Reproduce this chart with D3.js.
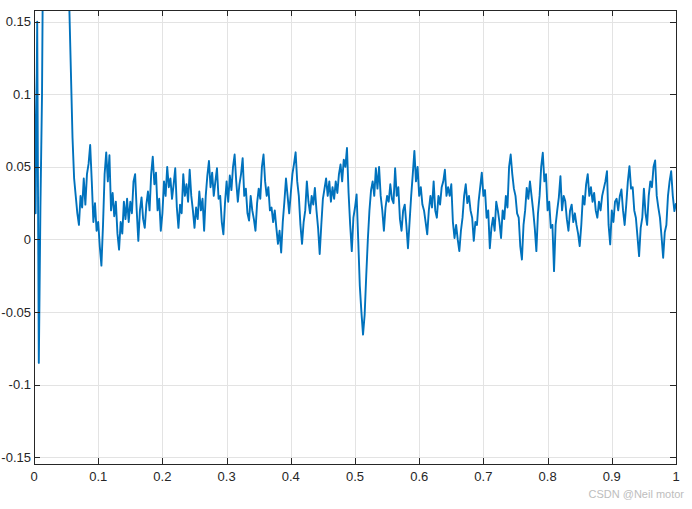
<html lang="en">
<head>
<meta charset="utf-8">
<style>
    body { margin: 0; background: #fff; }
    #chart svg { display: block; }
    .tick-label { font-family: Arial, "Liberation Sans", sans-serif; font-size: 13px; fill: #262626; }
</style>
</head>
<body>

<div id="chart"></div>

<script src="https://cdnjs.cloudflare.com/ajax/libs/d3/7.8.5/d3.min.js"></script>
<script>

// sample step of the signal (s)
var dt = 0.0025;

// signal values, one per sample
var signal = [
    0.118, 0.018, 0.15, -0.085, 0.022, 0.10, 0.26, 0.33, 0.41, 0.47,
    0.52, 0.55, 0.56, 0.55, 0.53, 0.50, 0.46, 0.42, 0.37, 0.32,
    0.27, 0.22, 0.16, 0.115, 0.07, 0.042, 0.03, 0.018, 0.01, 0.03,
    0.022, 0.042, 0.024, 0.045, 0.052, 0.065, 0.04, 0.012, 0.025, 0.006,
    0.012, -0.005, -0.018, 0.01, 0.045, 0.06, 0.04, 0.058, 0.02, 0.032,
    0.016, 0.026, 0.004, -0.007, 0.012, 0.004, 0.026, 0.014, 0.028, 0.012,
    0.026, 0.018, 0.04, 0.045, 0.02, -0.001, 0.02, 0.029, 0.014, 0.008,
    0.024, 0.033, 0.02, 0.045, 0.057, 0.038, 0.046, 0.02, 0.028, 0.006,
    0.018, 0.04, 0.03, 0.05, 0.036, 0.042, 0.028, 0.038, 0.049, 0.022,
    0.008, 0.024, 0.018, 0.045, 0.03, 0.038, 0.026, 0.048, 0.03, 0.02,
    0.008, 0.022, 0.014, 0.033, 0.02, 0.028, 0.006, 0.03, 0.044, 0.054,
    0.036, 0.046, 0.03, 0.04, 0.049, 0.028, 0.03, 0.012, 0.0035, 0.025,
    0.04, 0.026, 0.044, 0.034, 0.05, 0.0585, 0.04, 0.026, 0.038, 0.045,
    0.056, 0.03, 0.035, 0.018, 0.013, 0.03, 0.02, 0.014, 0.006, 0.025,
    0.035, 0.028, 0.05, 0.0585, 0.04, 0.03, 0.036, 0.02, 0.022, 0.012,
    0.02, 0.008, -0.003, 0.006, -0.009, 0.012, 0.026, 0.042, 0.03, 0.018,
    0.032, 0.045, 0.052, 0.06, 0.04, 0.03, 0.01, -0.003, 0.012, 0.02,
    0.04, 0.026, 0.018, 0.03, 0.024, 0.0355, 0.02, 0.008, -0.01, 0.01,
    0.028, 0.035, 0.042, 0.03, 0.04, 0.026, 0.036, 0.028, 0.04, 0.032,
    0.045, 0.0516, 0.04, 0.055, 0.05, 0.063, 0.032, 0.01, -0.008, 0.015,
    0.022, 0.031, 0.0, -0.032, -0.05, -0.0655, -0.052, -0.025, 0.0, 0.02,
    0.034, 0.04, 0.03, 0.049, 0.035, 0.05, 0.03, 0.02, 0.006, 0.022,
    0.03, 0.026, 0.038, 0.028, 0.025, 0.049, 0.03, 0.036, 0.014, 0.006,
    0.02, 0.024, 0.01, -0.006, 0.012, 0.03, 0.045, 0.061, 0.04, 0.05,
    0.03, 0.036, 0.024, 0.02, 0.012, 0.0035, 0.02, 0.03, 0.022, 0.04,
    0.02, 0.015, 0.03, 0.024, 0.036, 0.04, 0.048, 0.03, 0.036, 0.03,
    0.038, 0.012, 0.001, 0.01, 0.0, -0.008, 0.006, 0.015, 0.03, 0.038,
    0.025, 0.03, 0.02, 0.015, -0.001, 0.012, 0.01, 0.026, 0.036, 0.046,
    0.03, 0.034, 0.015, 0.02, -0.006, 0.008, 0.015, 0.006, 0.026, 0.02,
    0.012, 0.001, 0.02, 0.014, 0.03, 0.022, 0.05, 0.0585, 0.045, 0.035,
    0.03, 0.018, 0.015, -0.005, -0.0138, 0.01, 0.02, 0.0355, 0.028, 0.04,
    0.03, 0.02, 0.008, -0.008, 0.018, 0.03, 0.05, 0.0597, 0.04, 0.045,
    0.02, 0.026, 0.008, 0.01, -0.0218, 0.01, 0.02, 0.029, 0.0436, 0.02,
    0.03, 0.0264, 0.014, 0.006, 0.02, 0.024, 0.012, 0.018, 0.01, 0.004,
    -0.0046, 0.01, 0.03, 0.024, 0.038, 0.045, 0.03, 0.036, 0.026, 0.032,
    0.02, 0.015, 0.026, 0.02, 0.03, 0.035, 0.04, 0.047, 0.01, -0.0034,
    0.02, 0.012, 0.026, 0.028, 0.02, 0.03, 0.0344, 0.02, 0.01, 0.024,
    0.04, 0.0505, 0.035, 0.036, 0.02, 0.015, 0.002, -0.0115, 0.008, 0.015,
    0.035, 0.018, 0.01, 0.03, 0.04, 0.036, 0.05, 0.0544, 0.03, 0.022,
    0.015, 0.002, -0.0126, 0.005, 0.01, 0.03, 0.04, 0.047, 0.03, 0.0195,
    0.025
];

var xTicks = [0, 0.1, 0.2, 0.3, 0.4, 0.5, 0.6, 0.7, 0.8, 0.9, 1];
var yTicks = [-0.15, -0.1, -0.05, 0, 0.05, 0.1, 0.15];
var xLimits = [0, 1];
var yLimits = [-0.1546, 0.158];

var width = 692;
var height = 509;
var margin = {top: 10, right: 16, bottom: 45, left: 34};

var svg = d3.select("#chart")
    .append("svg")
    .attr("width", width)
    .attr("height", height);

var x = d3.scaleLinear().domain(xLimits).range([margin.left, width - margin.right]);
var y = d3.scaleLinear().domain(yLimits).range([height - margin.bottom, margin.top]);

var x0 = x.range()[0], x1 = x.range()[1];
var y0 = y.range()[0], y1 = y.range()[1];

// MATLAB style labels: plain hyphen, no trailing zeros
function fmt(v) {
    return String(+v.toFixed(4));
}

// grid
svg.append("g").selectAll("line")
    .data(xTicks)
    .enter().append("line")
    .attr("x1", d => Math.round(x(d)) + 0.5)
    .attr("x2", d => Math.round(x(d)) + 0.5)
    .attr("y1", y1)
    .attr("y2", y0)
    .attr("stroke", "#e3e3e3");

svg.append("g").selectAll("line")
    .data(yTicks)
    .enter().append("line")
    .attr("y1", d => Math.round(y(d)) + 0.5)
    .attr("y2", d => Math.round(y(d)) + 0.5)
    .attr("x1", x0)
    .attr("x2", x1)
    .attr("stroke", "#e3e3e3");

// signal, clipped to the axes box
svg.append("clipPath")
    .attr("id", "plot-clip")
    .append("rect")
    .attr("x", x0)
    .attr("y", y1)
    .attr("width", x1 - x0)
    .attr("height", y0 - y1);

var line = d3.line()
    .x((d, i) => x(i * dt))
    .y(d => y(d));

svg.append("path")
    .datum(signal)
    .attr("clip-path", "url(#plot-clip)")
    .attr("fill", "none")
    .attr("stroke", "#0072BD")
    .attr("stroke-width", 1.9)
    .attr("stroke-linejoin", "round")
    .attr("d", line);

// axes box and inward ticks
var axisColor = "#262626";
var tickLen = 6;

svg.append("rect")
    .attr("x", Math.round(x0) + 0.5)
    .attr("y", Math.round(y1) + 0.5)
    .attr("width", Math.round(x1 - x0))
    .attr("height", Math.round(y0 - y1))
    .attr("fill", "none")
    .attr("stroke", axisColor);

var ticks = svg.append("g").attr("stroke", axisColor);

xTicks.forEach(function(t) {
    var px = Math.round(x(t)) + 0.5;
    ticks.append("line").attr("x1", px).attr("x2", px).attr("y1", y0).attr("y2", y0 - tickLen);
    ticks.append("line").attr("x1", px).attr("x2", px).attr("y1", y1).attr("y2", y1 + tickLen);
});

yTicks.forEach(function(t) {
    var py = Math.round(y(t)) + 0.5;
    ticks.append("line").attr("y1", py).attr("y2", py).attr("x1", x0).attr("x2", x0 + tickLen);
    ticks.append("line").attr("y1", py).attr("y2", py).attr("x1", x1).attr("x2", x1 - tickLen);
});

// tick labels
svg.append("g").selectAll("text")
    .data(xTicks)
    .enter().append("text")
    .attr("class", "tick-label")
    .attr("x", d => x(d))
    .attr("y", y0 + 17)
    .attr("text-anchor", "middle")
    .text(fmt);

svg.append("g").selectAll("text")
    .data(yTicks)
    .enter().append("text")
    .attr("class", "tick-label")
    .attr("x", x0 - 3)
    .attr("y", d => y(d))
    .attr("dy", "0.35em")
    .attr("text-anchor", "end")
    .text(fmt);

// watermark
svg.append("text")
    .attr("x", 684)
    .attr("y", 498)
    .attr("text-anchor", "end")
    .style("font-family", "Arial, 'Liberation Sans', sans-serif")
    .style("font-size", "11px")
    .style("fill", "#bdbdbd")
    .text("CSDN @Neil motor");

</script>
</body>
</html>
